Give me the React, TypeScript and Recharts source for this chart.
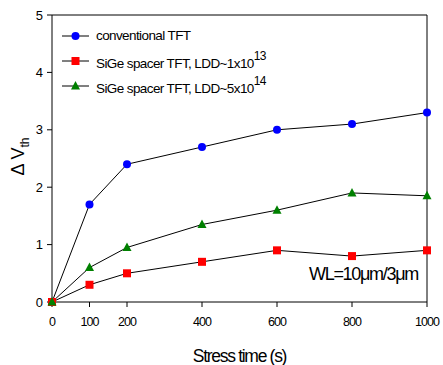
import React from 'react'
import {
  LineChart, Line, XAxis, YAxis, ReferenceLine,
} from 'recharts'

document.body.style.margin = '0'

const stressTime = [0, 100, 200, 400, 600, 800, 1000]
const conventional = [0, 1.7, 2.4, 2.7, 3.0, 3.1, 3.3]
const lddLow = [0, 0.3, 0.5, 0.7, 0.9, 0.8, 0.9]
const lddHigh = [0, 0.6, 0.95, 1.35, 1.6, 1.9, 1.85]
const xTicks = [0, 100, 200, 400, 600, 800, 1000]
const yTicks = [0, 1, 2, 3, 4, 5]

const data = stressTime.map((t, i) => ({
  t, conv: conventional[i], low: lddLow[i], high: lddHigh[i],
}))

const font = '"Liberation Sans", Arial, sans-serif'
const BLUE = '#0000ff'
const RED = '#ff0000'
const GREEN = '#008000'

const Square = (p: any) => (
  <rect key={`sq-${p.index}`} x={p.cx - 4} y={p.cy - 4} width={8} height={8} fill={RED} />
)
const Triangle = (p: any) => (
  <polygon key={`tr-${p.index}`} points={`${p.cx},${p.cy - 5} ${p.cx + 4.5},${p.cy + 3.5} ${p.cx - 4.5},${p.cy + 3.5}`} fill={GREEN} />
)

function Marker({ kind }: { kind: string }) {
  return (
    <svg width={28} height={12} style={{ marginRight: 6 }}>
      <line x1={0} y1={6} x2={27} y2={6} stroke="#000" strokeWidth={1} />
      {kind === 'conv' && <circle cx={13.5} cy={6} r={4} fill={BLUE} />}
      {kind === 'low' && <rect x={9.5} y={2} width={8} height={8} fill={RED} />}
      {kind === 'high' && <polygon points="13.5,1 18,9.5 9,9.5" fill={GREEN} />}
    </svg>
  )
}

const legendRows = [
  { kind: 'conv', text: 'conventional TFT', sup: '' },
  { kind: 'low', text: 'SiGe spacer TFT, LDD~1x10', sup: '13' },
  { kind: 'high', text: 'SiGe spacer TFT, LDD~5x10', sup: '14' },
]

const YTitle = (props: any) => {
  const vb = props.viewBox
  const cx = 24
  const cy = vb.y + vb.height / 2 - 2
  return (
    <text x={cx} y={cy} transform={`rotate(-90 ${cx} ${cy})`} textAnchor="middle"
      fontFamily={font} fontSize={18} fill="#000">
      Δ V<tspan fontSize={12} dy={5}>th</tspan>
    </text>
  )
}

export default function App() {
  return (
    <div style={{ position: 'relative', width: 443, height: 365 }}>
      <LineChart width={443} height={365} data={data}
        margin={{ top: 15, right: 16, bottom: 33, left: 0 }}>
        <XAxis dataKey="t" type="number" domain={[0, 1000]} ticks={xTicks} height={30}
          tick={{ fill: '#000', fontSize: 12.5, fontFamily: font, letterSpacing: -0.9 }}
          tickSize={5} tickMargin={10}
          axisLine={{ stroke: '#000' }} tickLine={{ stroke: '#000' }}
          label={{ value: 'Stress time (s)', position: 'insideBottom', offset: -30, fill: '#000', fontSize: 17.5, fontFamily: font, letterSpacing: -1.3 } as any} />
        <YAxis type="number" domain={[0, 5]} ticks={yTicks} width={52}
          tick={{ fill: '#000', fontSize: 13, fontFamily: font }}
          tickSize={5} tickMargin={4}
          axisLine={{ stroke: '#000' }} tickLine={{ stroke: '#000' }}
          label={<YTitle />} />
        <ReferenceLine y={5} stroke="#000" />
        <ReferenceLine x={1000} stroke="#000" />
        <Line dataKey="conv" stroke="#000" strokeWidth={1} isAnimationActive={false}
          dot={{ r: 4, fill: BLUE, stroke: BLUE, strokeWidth: 0 }} />
        <Line dataKey="low" stroke="#000" strokeWidth={1} isAnimationActive={false}
          dot={Square} />
        <Line dataKey="high" stroke="#000" strokeWidth={1} isAnimationActive={false}
          dot={Triangle} />
      </LineChart>
      <div style={{ position: 'absolute', left: 62, top: 23, fontFamily: font, fontSize: 13.5, letterSpacing: -0.6, color: '#000' }}>
        {legendRows.map((r) => (
          <div key={r.kind} style={{ display: 'flex', alignItems: 'center', height: 25 }}>
            <Marker kind={r.kind} />
            <span>{r.text}{r.sup && <sup style={{ fontSize: 12, position: 'relative', top: -2 }}>{r.sup}</sup>}</span>
          </div>
        ))}
      </div>
      <div style={{ position: 'absolute', left: 309, top: 264, fontFamily: font, fontSize: 18, letterSpacing: -1.3, color: '#000' }}>
        WL=10μm/3μm
      </div>
    </div>
  )
}
